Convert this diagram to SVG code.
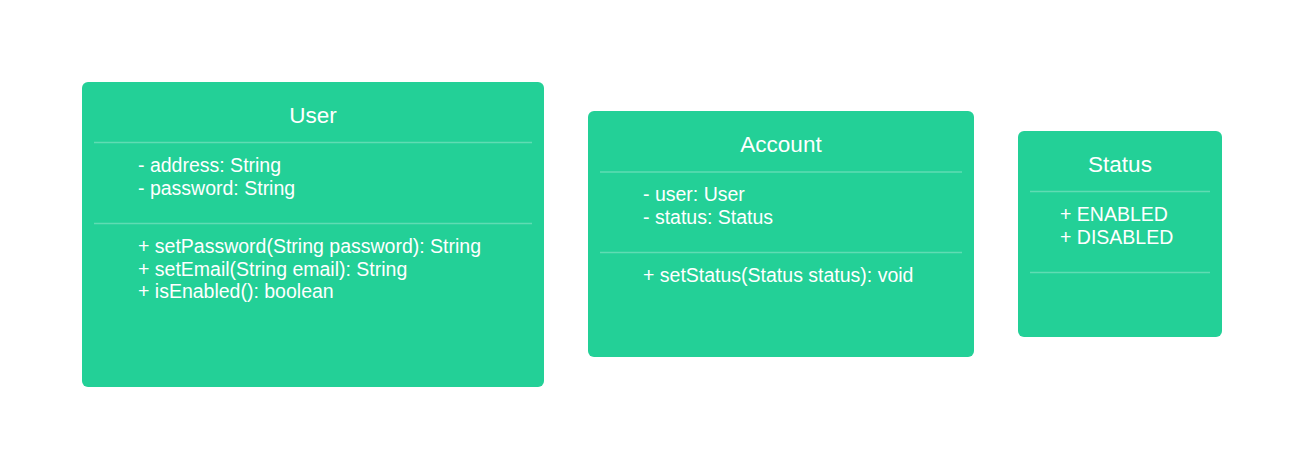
<svg xmlns="http://www.w3.org/2000/svg" width="1303" height="468" viewBox="0 0 1303 468">
<style>
.box{fill:#23d097;}
.div{stroke:#5fdcb3;stroke-width:1.5;}
.title{font-family:"Liberation Sans",Arial,sans-serif;font-size:22.5px;fill:#ffffff;text-anchor:middle;}
.txt{font-family:"Liberation Sans",Arial,sans-serif;font-size:19.5px;fill:#ffffff;}
</style>
<rect width="1303" height="468" fill="#ffffff"/>
<g id="connectors"></g>
<g id="User">
<rect class="box" x="82" y="82" width="462" height="305" rx="6"/>
<text class="title" x="313" y="123">User</text>
<line class="div" x1="94" y1="142.5" x2="532" y2="142.5"/>
<text class="txt" x="138" y="172">- address: String</text>
<text class="txt" x="138" y="194.5">- password: String</text>
<line class="div" x1="94" y1="223.5" x2="532" y2="223.5"/>
<text class="txt" x="138" y="253">+ setPassword(String password): String</text>
<text class="txt" x="138" y="275.5">+ setEmail(String email): String</text>
<text class="txt" x="138" y="298">+ isEnabled(): boolean</text>
</g>
<g id="Account">
<rect class="box" x="588" y="111" width="386" height="246" rx="6"/>
<text class="title" x="781" y="152">Account</text>
<line class="div" x1="600" y1="172" x2="962" y2="172"/>
<text class="txt" x="643" y="201">- user: User</text>
<text class="txt" x="643" y="223.5">- status: Status</text>
<line class="div" x1="600" y1="252.5" x2="962" y2="252.5"/>
<text class="txt" x="643" y="282">+ setStatus(Status status): void</text>
</g>
<g id="Status">
<rect class="box" x="1018" y="131" width="204" height="206" rx="6"/>
<text class="title" x="1120" y="172">Status</text>
<line class="div" x1="1030" y1="191.5" x2="1210" y2="191.5"/>
<text class="txt" x="1060" y="221">+ ENABLED</text>
<text class="txt" x="1060" y="243.5">+ DISABLED</text>
<line class="div" x1="1030" y1="272.5" x2="1210" y2="272.5"/>
</g>
</svg>
